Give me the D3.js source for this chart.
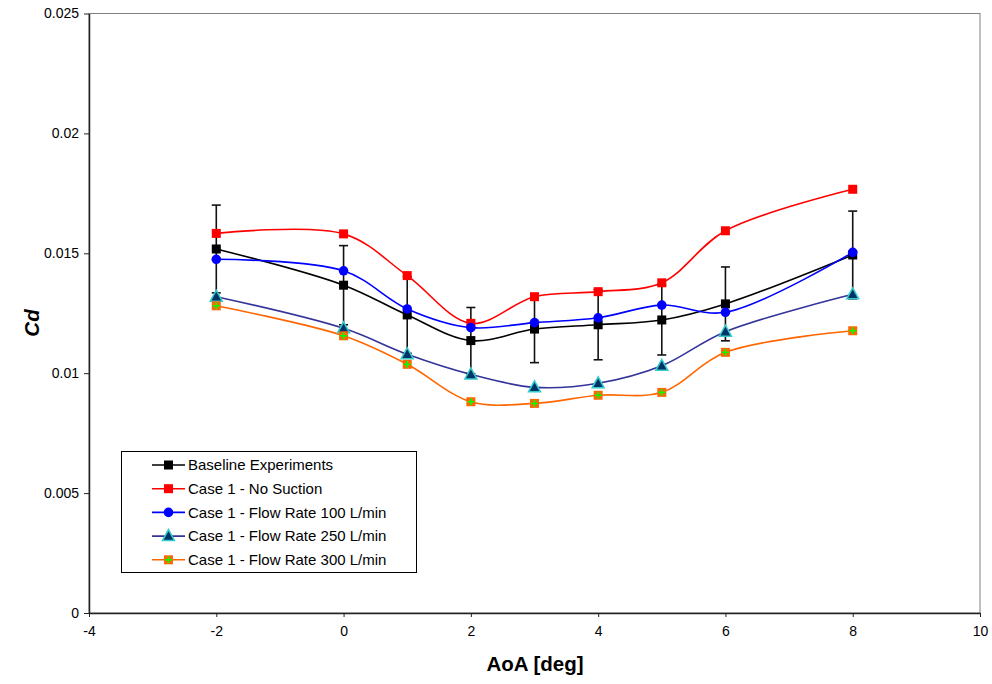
<!DOCTYPE html>
<html>
<head>
<meta charset="utf-8">
<script src="https://cdn.jsdelivr.net/npm/d3@7/dist/d3.min.js"></script>
<style>
  html, body { margin: 0; padding: 0; background: #fff; }
  svg { display: block; font-family: "Liberation Sans", Arial, sans-serif; }
</style>
</head>
<body>
<svg id="chart" width="992" height="684"></svg>
<script>
// Angle of attack (deg)
const aoa = [-2, 0, 1, 2, 3, 4, 5, 6, 8];

// Drag coefficient per configuration
const baseline   = [0.01518, 0.01367, 0.01243, 0.01136, 0.01184, 0.01202, 0.01222, 0.01289, 0.01493];
const baselineErr = [0.00183, 0.00165, 0.00160, 0.00138, 0.00140, 0.00146, 0.00146, 0.00154, 0.00183];
const noSuction  = [0.01583, 0.01581, 0.01407, 0.01208, 0.01319, 0.01340, 0.01377, 0.01594, 0.01767];
const flow100    = [0.01475, 0.01427, 0.01268, 0.01190, 0.01211, 0.01231, 0.01284, 0.01254, 0.01504];
const flow250    = [0.01319, 0.01187, 0.01079, 0.00995, 0.00941, 0.00958, 0.01031, 0.01173, 0.01329];
const flow300    = [0.01281, 0.01156, 0.01037, 0.00881, 0.00874, 0.00908, 0.00920, 0.01087, 0.01177];

const xTicks = [-4, -2, 0, 2, 4, 6, 8, 10];
const xTickLabels = ["-4", "-2", "0", "2", "4", "6", "8", "10"];
const yTicks = [0, 0.005, 0.01, 0.015, 0.02, 0.025];
const yTickLabels = ["0", "0.005", "0.01", "0.015", "0.02", "0.025"];

const seriesNames = [
  "Baseline Experiments",
  "Case 1 - No Suction",
  "Case 1 - Flow Rate 100 L/min",
  "Case 1 - Flow Rate 250 L/min",
  "Case 1 - Flow Rate 300 L/min"
];

const series = [
  { name: seriesNames[0], values: baseline,  line: "#000000", marker: "square",   fill: "#000000" },
  { name: seriesNames[1], values: noSuction, line: "#FF0000", marker: "square",   fill: "#FF0000" },
  { name: seriesNames[2], values: flow100,   line: "#0000FF", marker: "circle",   fill: "#0000FF" },
  { name: seriesNames[3], values: flow250,   line: "#333399", marker: "triangle", fill: "#003366", stroke: "#33CCCC" },
  { name: seriesNames[4], values: flow300,   line: "#FF6600", marker: "plusSquare", fill: "#FF6600", cross: "#00FF00" }
];

const svg = d3.select("#chart");
const x = d3.scaleLinear().domain([-4, 10]).range([89, 980]);
const y = d3.scaleLinear().domain([0, 0.025]).range([613, 13.5]);

// Plot area frame
svg.append("rect")
  .attr("x", x(-4)).attr("y", y(0.025))
  .attr("width", x(10) - x(-4)).attr("height", y(0) - y(0.025))
  .attr("fill", "none").attr("stroke", "#808080").attr("stroke-width", 1);

// Axes
const xAxis = d3.axisBottom(x).tickValues(xTicks).tickSize(4).tickSizeOuter(0).tickPadding(9)
  .tickFormat((d, i) => xTickLabels[i]);
const yAxis = d3.axisLeft(y).tickValues(yTicks).tickSize(5).tickSizeOuter(0).tickPadding(5)
  .tickFormat((d, i) => yTickLabels[i]);

const gx = svg.append("g").attr("transform", `translate(0,${y(0)})`).call(xAxis);
const gy = svg.append("g").attr("transform", `translate(${x(-4)},0)`).call(yAxis);
[gx, gy].forEach(g => {
  g.select(".domain").attr("stroke", "#222").attr("stroke-width", 1.5);
  g.selectAll(".tick line").attr("stroke", "#222");
  g.selectAll(".tick text").attr("font-size", 14).attr("fill", "#000")
    .attr("font-family", "'Liberation Sans', Arial, sans-serif");
});

// Axis titles
svg.append("text")
  .attr("x", 535).attr("y", 671)
  .attr("text-anchor", "middle")
  .attr("font-size", 20.5).attr("font-weight", "bold")
  .text("AoA [deg]");
svg.append("text")
  .attr("transform", "translate(39,323) rotate(-90)")
  .attr("text-anchor", "middle")
  .attr("font-size", 20.5).attr("font-weight", "bold").attr("font-style", "italic")
  .text("Cd");

// Smoothed series lines
const lineGen = d3.line()
  .x((d, i) => x(aoa[i]))
  .y(d => y(d))
  .curve(d3.curveCatmullRom.alpha(0.5));

const plot = svg.append("g");
series.forEach(s => {
  plot.append("path")
    .datum(s.values)
    .attr("d", lineGen)
    .attr("fill", "none")
    .attr("stroke", s.line)
    .attr("stroke-width", 1.6);
});

// Error bars on the baseline measurements
const errG = plot.append("g").attr("stroke", "#111").attr("stroke-width", 1.6);
baseline.forEach((v, i) => {
  const cx = x(aoa[i]);
  const top = y(v + baselineErr[i]);
  const bot = y(v - baselineErr[i]);
  errG.append("line").attr("x1", cx).attr("x2", cx).attr("y1", top).attr("y2", bot);
  errG.append("line").attr("x1", cx - 4.5).attr("x2", cx + 4.5).attr("y1", top).attr("y2", top);
  errG.append("line").attr("x1", cx - 4.5).attr("x2", cx + 4.5).attr("y1", bot).attr("y2", bot);
});

// Marker drawing
function drawMarker(g, s, cx, cy) {
  if (s.marker === "square") {
    g.append("rect").attr("x", cx - 4.5).attr("y", cy - 4.5).attr("width", 9).attr("height", 9)
      .attr("fill", s.fill);
  } else if (s.marker === "circle") {
    g.append("circle").attr("cx", cx).attr("cy", cy).attr("r", 4.8).attr("fill", s.fill);
  } else if (s.marker === "triangle") {
    g.append("path")
      .attr("d", `M${cx},${cy - 6.5} L${cx + 6},${cy + 4.5} L${cx - 6},${cy + 4.5} Z`)
      .attr("fill", s.fill).attr("stroke", s.stroke).attr("stroke-width", 1.5)
      .attr("stroke-linejoin", "miter");
  } else if (s.marker === "plusSquare") {
    g.append("rect").attr("x", cx - 4.5).attr("y", cy - 4.5).attr("width", 9).attr("height", 9)
      .attr("fill", s.fill);
    g.append("line").attr("x1", cx - 3.5).attr("x2", cx + 3.5).attr("y1", cy).attr("y2", cy)
      .attr("stroke", s.cross).attr("stroke-width", 1.6);
    g.append("line").attr("x1", cx).attr("x2", cx).attr("y1", cy - 3.5).attr("y2", cy + 3.5)
      .attr("stroke", s.cross).attr("stroke-width", 1.6);
  }
}

series.forEach(s => {
  const g = plot.append("g");
  s.values.forEach((v, i) => drawMarker(g, s, x(aoa[i]), y(v)));
});

// Legend
const legend = svg.append("g");
legend.append("rect")
  .attr("x", 121.5).attr("y", 451.5).attr("width", 295).attr("height", 121)
  .attr("fill", "#fff").attr("stroke", "#000").attr("stroke-width", 1);
series.forEach((s, i) => {
  const ly = 465 + i * 23.7;
  const lg = legend.append("g");
  lg.append("line").attr("x1", 152).attr("x2", 185).attr("y1", ly).attr("y2", ly)
    .attr("stroke", s.line).attr("stroke-width", 1.6);
  drawMarker(lg, s, 168.5, ly);
  lg.append("text").attr("x", 188).attr("y", ly + 5.2)
    .attr("font-size", 15).attr("fill", "#000").text(s.name);
});
</script>
</body>
</html>
